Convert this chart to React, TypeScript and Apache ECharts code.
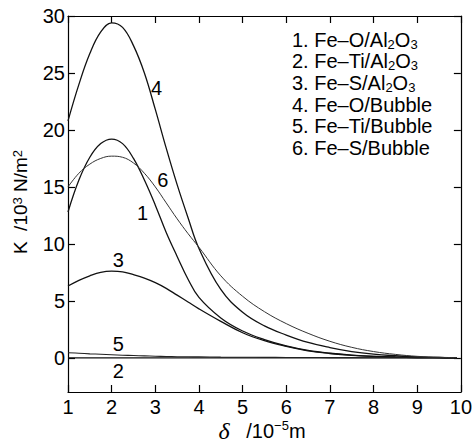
import React, { useEffect, useRef } from "react";
import * as echarts from "echarts";

const xValues = [1, 1.25, 1.5, 1.75, 2, 2.25, 2.5, 2.75, 3, 3.25, 3.5, 3.75, 4, 4.5, 5, 5.5, 6, 6.5, 7, 7.5, 8, 8.5, 9, 9.5, 9.9];

const curve1 = [12.8, 15.6, 17.6, 18.8, 19.2, 18.8, 17.5, 15.6, 13.4, 11.0, 8.9, 6.9, 5.3, 3.5, 2.35, 1.6, 1.05, 0.65, 0.4, 0.24, 0.13, 0.07, 0.03, 0.01, 0];
const curve2 = [0, 0, 0, 0, 0, 0, 0, 0, 0, 0, 0, 0, 0, 0, 0, 0, 0, 0, 0, 0, 0, 0, 0, 0, 0];
const curve3 = [6.3, 6.8, 7.2, 7.5, 7.6, 7.55, 7.3, 7.0, 6.6, 6.1, 5.5, 4.9, 4.3, 3.2, 2.2, 1.5, 1.0, 0.6, 0.38, 0.22, 0.12, 0.06, 0.03, 0.01, 0];
const curve4 = [20.8, 24.0, 26.7, 28.6, 29.4, 29.0, 27.4, 25.0, 21.8, 18.4, 15.2, 12.3, 9.6, 6.0, 4.0, 2.8, 2.0, 1.35, 0.9, 0.55, 0.32, 0.18, 0.08, 0.03, 0];
const curve5 = [0.45, 0.4, 0.35, 0.31, 0.27, 0.23, 0.2, 0.17, 0.14, 0.12, 0.1, 0.09, 0.08, 0.06, 0.05, 0.04, 0.03, 0.025, 0.02, 0.015, 0.01, 0.008, 0.005, 0.002, 0];
const curve6 = [15.0, 16.2, 17.0, 17.5, 17.7, 17.6, 17.1, 16.2, 15.0, 13.6, 12.2, 10.9, 9.7, 7.2, 5.4, 4.05, 3.0, 2.15, 1.45, 0.92, 0.55, 0.3, 0.13, 0.05, 0.01];

const curves = [curve1, curve2, curve3, curve4, curve5, curve6];
const curveColors = ["#111", "#111", "#111", "#111", "#222", "#333"];
const curveWidths = [1.3, 1.3, 1.3, 1.3, 1.1, 1.0];

// curve number labels, anchored in data space
const curveLabels: [number, number, string][] = [
  [3.03, 23.7, "4"],
  [3.17, 15.6, "6"],
  [2.71, 12.7, "1"],
  [2.15, 8.6, "3"],
  [2.15, 1.25, "5"],
  [2.15, -1.2, "2"],
];

const legendLines = [
  "1. Fe–O/Al{sub|2}O{sub|3}",
  "2. Fe–Ti/Al{sub|2}O{sub|3}",
  "3. Fe–S/Al{sub|2}O{sub|3}",
  "4. Fe–O/Bubble",
  "5. Fe–Ti/Bubble",
  "6. Fe–S/Bubble",
];

const xMin = 1, xMax = 10, xInterval = 1;
const yMin = -3, yMax = 30;
const yTicks = [0, 5, 10, 15, 20, 25, 30];

const FONT = "'Liberation Sans', Arial, Helvetica, sans-serif";

export default function App() {
  const ref = useRef<HTMLDivElement>(null);
  useEffect(() => {
    if (!ref.current) return;
    const chart = echarts.init(ref.current, undefined, { renderer: "svg" });
    const axisCommon = {
      axisLine: { show: true, onZero: false, lineStyle: { color: "#000", width: 1.2 } },
      axisTick: { show: true, inside: true, length: 7, lineStyle: { color: "#000", width: 1.2 } },
      splitLine: { show: false },
    };
    const yCustom = {
      customValues: yTicks,
    };
    const staticGraphics: any[] = [
      {
        type: "text",
        left: 292,
        top: 29,
        style: {
          text: legendLines.join("\n"),
          fontSize: 20,
          fontFamily: FONT,
          fill: "#000",
          lineHeight: 21.6,
          rich: {
            sub: { fontSize: 13, fontFamily: FONT, verticalAlign: "bottom", lineHeight: 18, fill: "#000" },
          },
        },
      },
      {
        type: "text",
        x: 20,
        y: 202,
        rotation: Math.PI / 2,
        style: {
          text: "K  /10{sup|3} N/m{sup|2}",
          fontSize: 19,
          fontFamily: FONT,
          fill: "#000",
          align: "center",
          verticalAlign: "middle",
          rich: {
            sup: { fontSize: 13, fontFamily: FONT, verticalAlign: "top", lineHeight: 14, fill: "#000" },
          },
        },
      },
      {
        type: "text",
        x: 262,
        y: 431,
        style: {
          text: "{d|δ}   /10{sup|−5}m",
          fontSize: 20,
          fontFamily: FONT,
          fill: "#000",
          align: "center",
          verticalAlign: "middle",
          rich: {
            d: { fontSize: 24, fontFamily: "'Liberation Serif', 'DejaVu Serif', serif", fontStyle: "italic", fill: "#000" },
            sup: { fontSize: 13, fontFamily: FONT, verticalAlign: "top", lineHeight: 14, fill: "#000" },
          },
        },
      },
    ];
    chart.setOption({
      animation: false,
      backgroundColor: "#fff",
      grid: { left: 68, right: 13, top: 16, bottom: 54 },
      xAxis: [
        {
          type: "value", min: xMin, max: xMax, interval: xInterval, position: "bottom",
          ...axisCommon,
          axisLabel: { color: "#000", fontSize: 20, fontFamily: FONT, margin: 5 },
        },
        {
          type: "value", min: xMin, max: xMax, interval: xInterval, position: "top",
          ...axisCommon,
          axisLabel: { show: false },
        },
      ],
      yAxis: [
        {
          type: "value", min: yMin, max: yMax, position: "left",
          ...axisCommon,
          axisTick: { ...axisCommon.axisTick, ...yCustom },
          axisLabel: { color: "#000", fontSize: 20, fontFamily: FONT, margin: 3, ...yCustom },
        },
        {
          type: "value", min: yMin, max: yMax, position: "right",
          ...axisCommon,
          axisTick: { ...axisCommon.axisTick, ...yCustom },
          axisLabel: { show: false, ...yCustom },
        },
      ],
      series: curves.map((c, i) => ({
        type: "line",
        name: "curve" + (i + 1),
        data: xValues.map((x, j) => [x, c[j]]),
        smooth: 0.4,
        showSymbol: false,
        symbol: "none",
        lineStyle: { color: curveColors[i], width: curveWidths[i] },
        z: 3,
      })),
      graphic: staticGraphics,
    });
    const labelGraphics = curveLabels.map((l) => {
      const p = chart.convertToPixel({ xAxisIndex: 0, yAxisIndex: 0 }, [l[0], l[1]]) as number[];
      return {
        type: "text",
        x: p[0],
        y: p[1],
        style: {
          text: l[2],
          fontSize: 20,
          fontFamily: FONT,
          fill: "#000",
          align: "center",
          verticalAlign: "middle",
        },
        z: 10,
      };
    });
    chart.setOption({ graphic: [...staticGraphics, ...labelGraphics] });
    return () => chart.dispose();
  }, []);
  return (
    <div
      ref={ref}
      style={{ position: "absolute", left: 0, top: 0, width: 475, height: 446 }}
    />
  );
}
